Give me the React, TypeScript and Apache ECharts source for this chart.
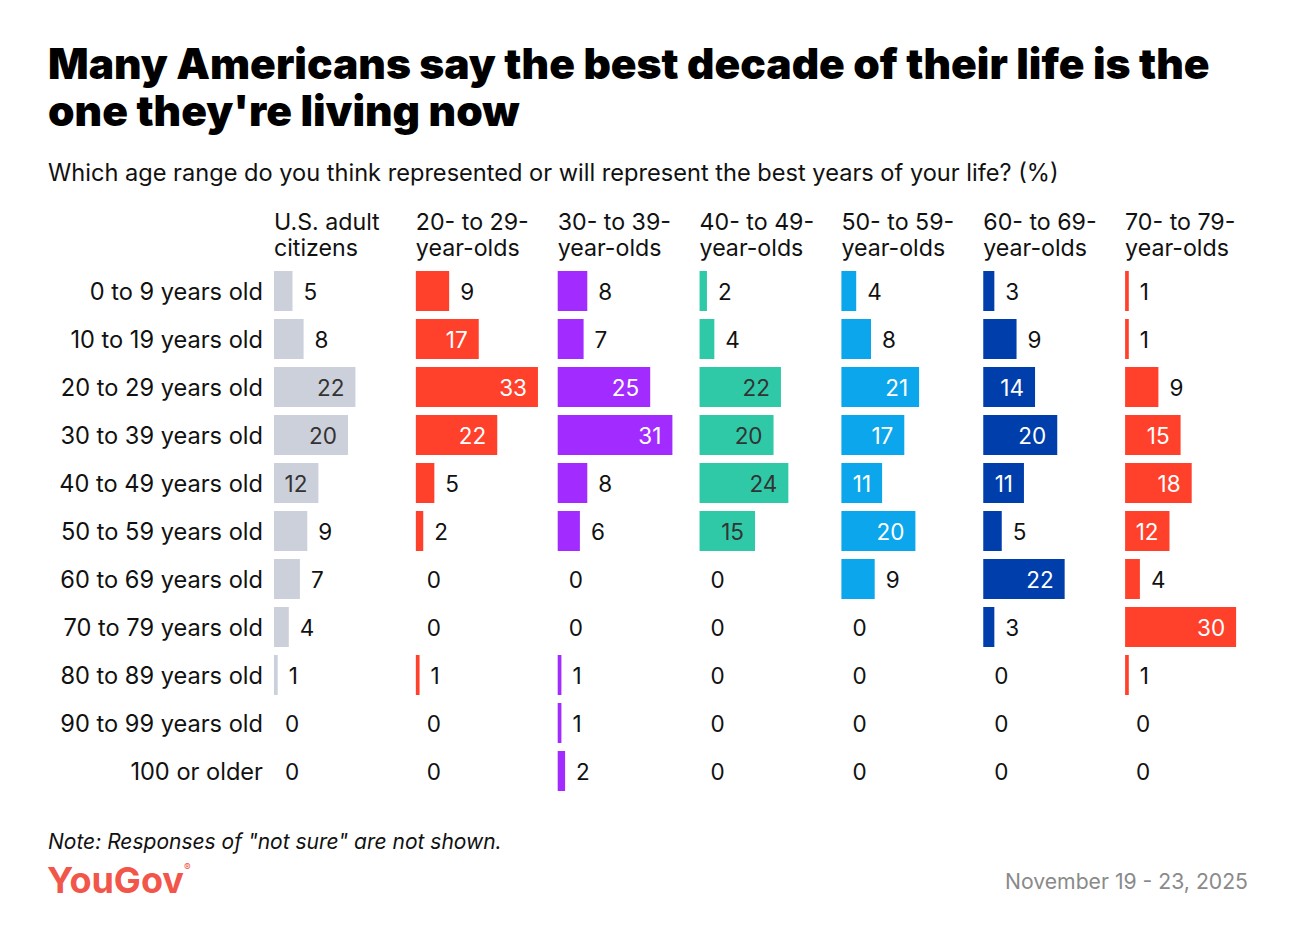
import React, { useEffect, useRef } from 'react';
import * as echarts from 'echarts';

// rows (top to bottom)
const ageRanges = [
    '0 to 9 years old',
    '10 to 19 years old',
    '20 to 29 years old',
    '30 to 39 years old',
    '40 to 49 years old',
    '50 to 59 years old',
    '60 to 69 years old',
    '70 to 79 years old',
    '80 to 89 years old',
    '90 to 99 years old',
    '100 or older',
];

const groupNames = [
    'U.S. adult\ncitizens',
    '20- to 29-\nyear-olds',
    '30- to 39-\nyear-olds',
    '40- to 49-\nyear-olds',
    '50- to 59-\nyear-olds',
    '60- to 69-\nyear-olds',
    '70- to 79-\nyear-olds',
];

const usAdults = [5, 8, 22, 20, 12, 9, 7, 4, 1, 0, 0];
const age20s = [9, 17, 33, 22, 5, 2, 0, 0, 1, 0, 0];
const age30s = [8, 7, 25, 31, 8, 6, 0, 0, 1, 1, 2];
const age40s = [2, 4, 22, 20, 24, 15, 0, 0, 0, 0, 0];
const age50s = [4, 8, 21, 17, 11, 20, 9, 0, 0, 0, 0];
const age60s = [3, 9, 14, 20, 11, 5, 22, 3, 0, 0, 0];
const age70s = [1, 1, 9, 15, 18, 12, 4, 30, 1, 0, 0];

const groupValues = [usAdults, age20s, age30s, age40s, age50s, age60s, age70s];
const groupColors = ['#ccd0db', '#ff412c', '#a22cff', '#30c9a8', '#0ca6ec', '#003eac', '#ff412c'];
const darkInside = [true, false, false, true, false, false, false];

const FONT = 'Inter, "Noto Sans", sans-serif';

const App: React.FC = () => {
    const chartRef = useRef<HTMLDivElement>(null);

    useEffect(() => {
        if (!chartRef.current) return;
        document.body.style.margin = '0';
        const chart = echarts.init(chartRef.current, undefined, { renderer: 'svg' });

        const firstLeft = 274;
        const step = 141.85;
        const panelWidth = 140.6;
        const top = 267;
        const height = 528;

        const grids = groupValues.map((_, i) => ({
            left: firstLeft + i * step,
            top,
            width: panelWidth,
            height,
            containLabel: false,
        }));

        const xAxes = groupValues.map((_, i) => ({
            type: 'value',
            gridIndex: i,
            min: 0,
            max: 38,
            show: false,
        }));

        const yAxes = groupValues.map((_, i) => ({
            type: 'category',
            gridIndex: i,
            data: ageRanges,
            inverse: true,
            axisLine: { show: false },
            axisTick: { show: false },
            splitLine: { show: false },
            axisLabel: {
                show: i === 0,
                margin: 11,
                fontSize: 23.6,
                fontFamily: FONT,
                color: '#111',
            },
        }));

        const series = groupValues.map((values, i) => ({
            type: 'bar',
            xAxisIndex: i,
            yAxisIndex: i,
            barWidth: 40,
            itemStyle: { color: groupColors[i] },
            data: values.map(v => {
                const inside = v >= 10;
                return {
                    value: v,
                    label: {
                        show: true,
                        position: inside ? 'insideRight' : 'right',
                        distance: 11,
                        fontSize: 22.5,
                        fontFamily: FONT,
                        color: inside ? (darkInside[i] ? '#333' : '#fff') : '#111',
                    },
                };
            }),
        }));

        const headers = groupNames.map((name, i) => ({
            type: 'text',
            left: firstLeft + i * step,
            top: 209,
            style: {
                text: name,
                fontSize: 23.2,
                lineHeight: 26,
                fontFamily: FONT,
                fill: '#111',
            },
        }));

        chart.setOption({
            animation: false,
            title: {
                text: "Many Americans say the best decade of their life is the\none they're living now",
                left: 48,
                top: 40,
                padding: 0,
                textStyle: {
                    fontSize: 42.5,
                    lineHeight: 47,
                    fontWeight: 900,
                    fontFamily: FONT,
                    color: '#000',
                },
            },
            grid: grids,
            xAxis: xAxes,
            yAxis: yAxes,
            series,
            graphic: [
                {
                    type: 'text',
                    left: 48,
                    top: 160,
                    style: {
                        text: 'Which age range do you think represented or will represent the best years of your life? (%)',
                        fontSize: 23.6,
                        fontFamily: FONT,
                        fill: '#111',
                    },
                },
                ...headers,
                {
                    type: 'text',
                    left: 48,
                    top: 831,
                    style: {
                        text: 'Note: Responses of "not sure" are not shown.',
                        fontSize: 21,
                        fontStyle: 'italic',
                        fontFamily: FONT,
                        fill: '#111',
                    },
                },
                {
                    type: 'text',
                    left: 47,
                    top: 862,
                    style: {
                        text: '{a|YouGov}{b|®}',
                        rich: {
                            a: { fontSize: 36, fontWeight: 700, fontFamily: FONT, fill: '#f2564a', color: '#f2564a' },
                            b: { fontSize: 10, fontFamily: FONT, fill: '#f2564a', color: '#f2564a', verticalAlign: 'top', padding: [0, 0, 22, 0] },
                        },
                    },
                },
                {
                    type: 'text',
                    right: 66,
                    top: 870,
                    style: {
                        text: 'November 19 - 23, 2025',
                        fontSize: 21.2,
                        fontFamily: FONT,
                        fill: '#8a8a8a',
                    },
                },
            ],
        });

        return () => chart.dispose();
    }, []);

    return <div ref={chartRef} style={{ width: 1314, height: 936 }} />;
};

export default App;
